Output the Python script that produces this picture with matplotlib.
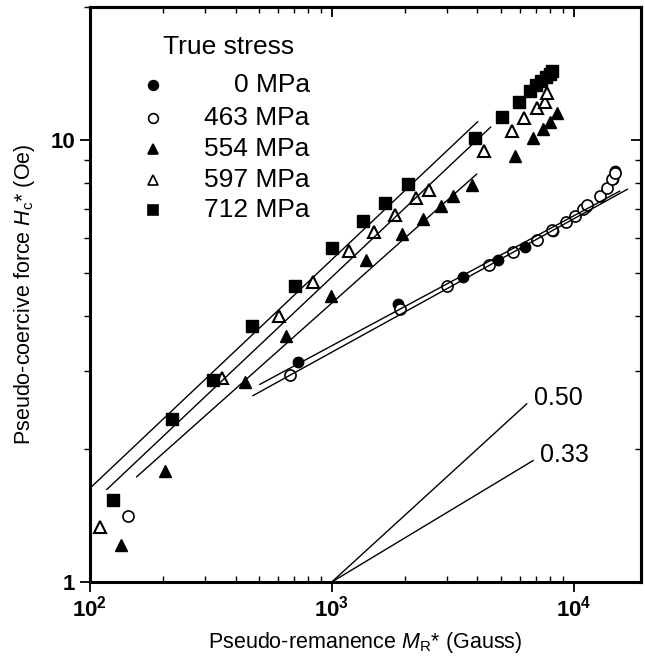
import matplotlib.pyplot as plt
from matplotlib.ticker import LogLocator, NullFormatter, FixedLocator

plt.rcParams['font.family'] = ['Liberation Sans', 'DejaVu Sans']
plt.rcParams['mathtext.fontset'] = 'custom'
plt.rcParams['mathtext.rm'] = 'Liberation Sans'
plt.rcParams['mathtext.it'] = 'Liberation Sans:italic'
plt.rcParams['mathtext.bf'] = 'Liberation Sans:bold'

# 0 MPa
mr_0 = [724, 1875, 3480, 4850, 6280, 8190, 11300, 14500, 14900]
hc_0 = [3.14, 4.25, 4.89, 5.34, 5.72, 6.22, 7.05, 8.16, 8.51]
# 463 MPa
mr_463 = [143, 670, 1910, 2990, 4450, 5600, 7030, 8110, 9270, 10100,
          10900, 11400, 12800, 13700, 14400, 14800]
hc_463 = [1.41, 2.94, 4.14, 4.67, 5.21, 5.57, 5.93, 6.25, 6.52, 6.73,
          6.98, 7.12, 7.47, 7.78, 8.16, 8.42]
# 554 MPa
mr_554 = [135, 204, 437, 645, 990, 1381, 1945, 2376, 2820, 3160, 3790,
          5700, 6770, 7450, 7960, 8510]
hc_554 = [1.21, 1.78, 2.84, 3.61, 4.43, 5.34, 6.12, 6.62, 7.08, 7.46, 7.91,
          9.20, 10.1, 10.6, 11.0, 11.5]
# 597 MPa
mr_597 = [110, 351, 604, 834, 1175, 1492, 1821, 2223, 2517, 4250, 5540,
          6210, 7030, 7590, 7730]
hc_597 = [1.33, 2.90, 3.99, 4.77, 5.60, 6.18, 6.76, 7.38, 7.70, 9.44, 10.5,
          11.2, 11.8, 12.2, 12.8]
# 712 MPa
mr_712 = [124, 218, 322, 467, 703, 1000, 1343, 1656, 2060, 3900, 5040,
          5930, 6580, 6970, 7310, 7660, 7960, 8110]
hc_712 = [1.53, 2.34, 2.86, 3.80, 4.67, 5.69, 6.55, 7.20, 7.95, 10.1, 11.3,
          12.2, 12.9, 13.3, 13.6, 13.9, 14.1, 14.3]

# power-law fits (end points in MR*, Hc*)
fit_0 = ([504, 15500], [2.80, 7.66])
fit_463 = ([472, 16700], [2.64, 7.74])
fit_554 = ([156, 3970], [1.73, 8.37])
fit_597 = ([117.5, 4540], [1.62, 10.7])
fit_712 = ([100, 4010], [1.63, 11.0])

# reference slopes starting at (1000, 1)
slopes = [0.50, 0.33]
slope_end = [6400, 6800]

fig = plt.figure(figsize=(6.45, 6.63), dpi=100)
ax = fig.add_axes([0.1395, 0.1222, 0.8543, 0.8672])

mk = dict(linestyle='none', color='black', markeredgecolor='black')
ax.plot(mr_0, hc_0, marker='o', markersize=7.5, **mk)
ax.plot(mr_463, hc_463, marker='o', markersize=8, markerfacecolor='white',
        markeredgewidth=1.2, **mk)
ax.plot(mr_554, hc_554, marker='^', markersize=8.5, **mk)
ax.plot(mr_597, hc_597, marker='^', markersize=8.5, markerfacecolor='white',
        markeredgewidth=1.5, **mk)
ax.plot(mr_712, hc_712, marker='s', markersize=8.5, **mk)

for fx, fy in [fit_0, fit_463, fit_554, fit_597, fit_712]:
    ax.plot(fx, fy, color='black', linewidth=1.0)

for s, xe, lab in zip(slopes, slope_end, ['0.50', '0.33']):
    ax.plot([1000, xe], [1, (xe / 1000) ** s], color='black', linewidth=1.0)
    ax.text(xe * 1.07, (xe / 1000) ** s * 1.03, lab, fontsize=18,
            ha='left', va='center')

ax.set_xscale('log')
ax.set_yscale('log')
ax.set_xlim(100, 19000)
ax.set_ylim(1, 20)

ax.xaxis.set_major_locator(FixedLocator([100, 1000, 10000]))
ax.set_xticklabels(['$\\mathbf{10^2}$', '$\\mathbf{10^3}$', '$\\mathbf{10^4}$'])
ax.xaxis.set_minor_locator(LogLocator(base=10, subs=range(2, 10)))
ax.xaxis.set_minor_formatter(NullFormatter())
ax.yaxis.set_major_locator(FixedLocator([1, 10]))
ax.set_yticklabels(['1', '10'], fontweight='bold')
ax.yaxis.set_minor_locator(LogLocator(base=10, subs=range(2, 10)))
ax.yaxis.set_minor_formatter(NullFormatter())

for sp in ax.spines.values():
    sp.set_linewidth(2.2)
ax.tick_params(axis='both', which='major', labelsize=16, width=1.3, length=7)
ax.tick_params(axis='both', which='minor', width=1.0, length=4)
ax.tick_params(axis='x', which='major', direction='out', pad=3)
ax.tick_params(axis='x', which='minor', direction='in')
ax.tick_params(axis='y', which='both', direction='out')
# ticks on the top and right edges point inward
ax_top = ax.secondary_xaxis('top')
ax_top.set_xscale('log')
ax_top.xaxis.set_major_locator(FixedLocator([100, 1000, 10000]))
ax_top.xaxis.set_minor_locator(LogLocator(base=10, subs=range(2, 10)))
ax_top.tick_params(which='both', direction='in', labeltop=False)
ax_top.tick_params(which='major', length=7, width=1.3)
ax_top.tick_params(which='minor', length=4, width=1.0)
ax_top.spines['top'].set_linewidth(2.2)
ax_right = ax.secondary_yaxis('right')
ax_right.yaxis.set_major_locator(FixedLocator([1, 10]))
ax_right.yaxis.set_minor_locator(LogLocator(base=10, subs=range(2, 10)))
ax_right.tick_params(which='both', direction='in', labelright=False)
ax_right.tick_params(which='major', length=7, width=1.3)
ax_right.tick_params(which='minor', length=4, width=1.0)
ax_right.spines['right'].set_linewidth(2.2)

ax.set_xlabel('Pseudo-remanence $M_\\mathrm{R}$* (Gauss)', fontsize=15.5, labelpad=6)
ax.set_ylabel('Pseudo-coercive force $H_\\mathrm{c}$* (Oe)', fontsize=15.5, labelpad=10)

# legend drawn by hand: markers left, labels right-aligned
ax.text(0.1325, 0.930, 'True stress', transform=ax.transAxes, fontsize=19,
        ha='left', va='center')
leg_labels = ['0 MPa', '463 MPa', '554 MPa', '597 MPa', '712 MPa']
leg_style = [dict(marker='o', markersize=7, markerfacecolor='black'),
             dict(marker='o', markersize=7, markerfacecolor='white'),
             dict(marker='^', markersize=7.5, markerfacecolor='black'),
             dict(marker='^', markersize=7.5, markerfacecolor='white'),
             dict(marker='s', markersize=7.5, markerfacecolor='black')]
leg_y = [0.864, 0.807, 0.753, 0.699, 0.647]
for lab, st, yy in zip(leg_labels, leg_style, leg_y):
    ax.plot([0.1143], [yy], transform=ax.transAxes, linestyle='none',
            markeredgecolor='black', markeredgewidth=1.2, **st)
    ax.text(0.399, yy, lab, transform=ax.transAxes, fontsize=19,
            ha='right', va='center')

fig.savefig('out.png', dpi=100)
